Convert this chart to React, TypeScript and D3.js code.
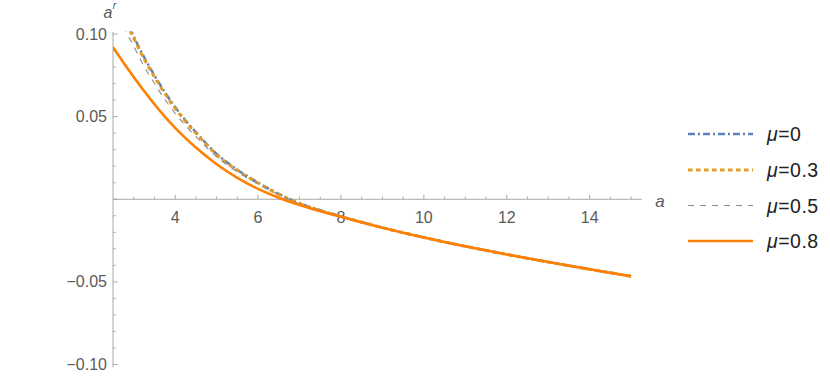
import React from "react";
import * as d3 from "d3";

const aValues = [2.5, 2.75, 3, 3.25, 3.5, 3.75, 4, 4.25, 4.5, 5, 5.5, 6, 6.5, 7, 7.5, 8, 9, 10, 11, 12, 13, 14, 15];

const mu0 = [null, 0.112, 0.0985, 0.086, 0.075, 0.0648, 0.0558, 0.0477, 0.0406, 0.0275, 0.0179, 0.0101, 0.0032, -0.0024, -0.0067, -0.0104, -0.0172, -0.0231, -0.0285, -0.0334, -0.038, -0.0424, -0.0466];
const mu03 = [null, 0.111, 0.0975, 0.085, 0.074, 0.064, 0.055, 0.047, 0.04, 0.027, 0.0175, 0.0098, 0.003, -0.0025, -0.0068, -0.0104, -0.0172, -0.0231, -0.0285, -0.0334, -0.038, -0.0424, -0.0466];
const mu05 = [null, 0.1045, 0.0925, 0.0805, 0.07, 0.0605, 0.052, 0.0445, 0.038, 0.0257, 0.0166, 0.0092, 0.0027, -0.0027, -0.0069, -0.0104, -0.0172, -0.0231, -0.0285, -0.0334, -0.038, -0.0424, -0.0466];
const mu08 = [0.092, 0.0828, 0.074, 0.0655, 0.0575, 0.05, 0.0432, 0.037, 0.0313, 0.0212, 0.013, 0.0063, 0.0009, -0.0035, -0.0072, -0.0106, -0.0172, -0.0231, -0.0285, -0.0334, -0.038, -0.0424, -0.0466];

const seriesLabels = ["0", "0.3", "0.5", "0.8"];
const xTickLabels = [4, 6, 8, 10, 12, 14];
const yTickLabels = [-0.1, -0.05, 0.05, 0.1];

const styles = [
  { color: "#5e81b5", width: 2.5, dash: "7 3 2 3" },
  { color: "#e19c24", width: 3, dash: "4.5 3.5" },
  { color: "#8a8a8a", width: 1.1, dash: "6 6" },
  { color: "#ff8000", width: 2.6, dash: null as string | null },
];

const W = 830;
const H = 380;

export default function App() {
  const x = d3.scaleLinear().domain([2.5, 15]).range([113, 113 + 12.5 * 41.45]);
  const y = d3.scaleLinear().domain([-0.1, 0.1]).range([364.5, 34]);
  const all = [mu0, mu03, mu05, mu08];
  const line = d3
    .line<[number, number | null]>()
    .defined((d) => d[1] !== null)
    .x((d) => x(d[0]))
    .y((d) => y(d[1] as number))
    .curve(d3.curveMonotoneX);

  const xMinor = d3.range(3, 15.01, 0.5);
  const yMinor = d3.range(-10, 10.01, 1).map((v) => v / 100);
  const font = "'Liberation Sans', Arial, sans-serif";
  const axisColor = "#a8a8a8";
  const labelColor = "#5a5a5a";
  const x0 = x(2.5);
  const y0 = y(0);
  const legendY = [134, 170, 205.5, 241];

  return (
    <svg width={W} height={H} style={{ position: "absolute", left: 0, top: 0 }}>
      <defs>
        <clipPath id="plotclip">
          <rect x={x0} y={y(0.1015)} width={x(15.3) - x0} height={y(-0.102) - y(0.1015)} />
        </clipPath>
      </defs>
      {/* axes */}
      <line x1={x0} x2={x(15.26)} y1={y0} y2={y0} stroke={axisColor} strokeWidth={1} />
      <line x1={x0} x2={x0} y1={y(0.1012)} y2={y(-0.1018)} stroke={axisColor} strokeWidth={1} />
      {xMinor.map((v) => {
        const major = xTickLabels.includes(v);
        return (
          <line key={"xt" + v} x1={x(v)} x2={x(v)} y1={y0} y2={y0 - (major ? 4.5 : 2.7)} stroke={axisColor} strokeWidth={1} />
        );
      })}
      {yMinor.map((v) => {
        const major = Math.abs(Math.round(v * 100) % 5) === 0;
        return (
          <line key={"yt" + v} x1={x0} x2={x0 + (major ? 4.5 : 2.7)} y1={y(v)} y2={y(v)} stroke={axisColor} strokeWidth={1} />
        );
      })}
      {xTickLabels.map((v) => (
        <text key={"xl" + v} x={x(v)} y={y0 + 23.5} textAnchor="middle" fontFamily={font} fontSize={16} fill={labelColor}>
          {v}
        </text>
      ))}
      {yTickLabels.map((v) => (
        <text key={"yl" + v} x={x0 - 6} y={y(v) + 5.5} textAnchor="end" fontFamily={font} fontSize={16} fill={labelColor}>
          {v < 0 ? "\u2212" + Math.abs(v).toFixed(2) : v.toFixed(2)}
        </text>
      ))}
      <text x={660} y={207} textAnchor="middle" fontFamily={font} fontSize={17} fontStyle="italic" fill={labelColor}>
        a
      </text>
      <text x={108} y={18} textAnchor="middle" fontFamily={font} fontSize={16} fontStyle="italic" fill={labelColor}>
        a
      </text>
      <text x={114.5} y={9} textAnchor="middle" fontFamily={font} fontSize={10.5} fontStyle="italic" fill={labelColor}>
        r
      </text>
      {/* curves */}
      <g clipPath="url(#plotclip)">
        {all.map((vals, i) => (
          <path
            key={"c" + i}
            d={line(aValues.map((a, j) => [a, vals[j]] as [number, number | null])) || ""}
            fill="none"
            stroke={styles[i].color}
            strokeWidth={styles[i].width}
            strokeDasharray={styles[i].dash || undefined}
          />
        ))}
      </g>
      {/* legend */}
      {seriesLabels.map((lab, i) => (
        <g key={"lg" + i}>
          <line x1={688} x2={753} y1={legendY[i]} y2={legendY[i]} stroke={styles[i].color} strokeWidth={styles[i].width} strokeDasharray={styles[i].dash || undefined} />
          <text x={767} y={legendY[i] + 7} fontFamily={font} fontSize={19.5} letterSpacing={0.5} fill="#222">
            <tspan fontStyle="italic">μ</tspan>
            <tspan>=</tspan>
            <tspan>{lab}</tspan>
          </text>
        </g>
      ))}
    </svg>
  );
}
